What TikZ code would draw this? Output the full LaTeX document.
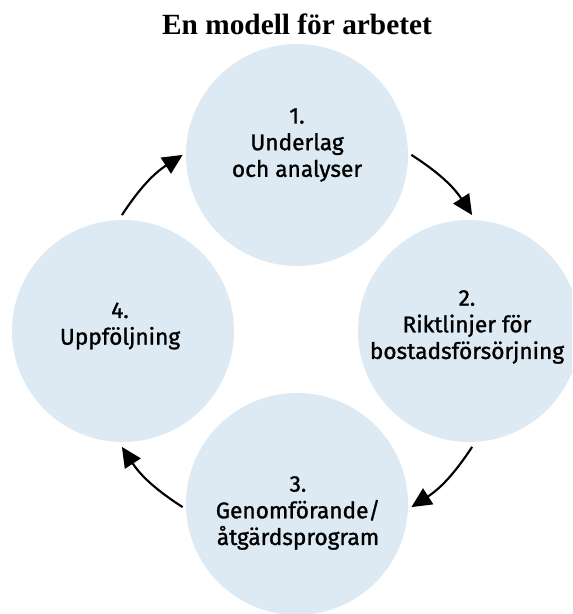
\documentclass[tikz,border=0pt]{standalone}
\usepackage{fontspec}
\setmainfont{Liberation Serif}
\newfontfamily\stagefont{Fira Sans}[UprightFeatures={FakeBold=1.2}]
\usepackage{xcolor}
\usepackage{tikz}
\usetikzlibrary{arrows.meta,positioning,calc}
\definecolor{bubble}{RGB}{221,234,243}

\begin{document}
\begin{tikzpicture}[
  x=0.75pt, y=0.75pt,
  stage/.style={circle, fill=bubble, minimum size=166.5pt, inner sep=0pt},
  stagetext/.style={align=center, inner sep=0pt, font=\stagefont\fontsize{17}{20}\selectfont},
  flow/.style={-{Triangle[length=15pt,width=14pt]}, line width=1.6pt, bend left=12}
]
  \path[use as bounding box, clip] (0,0) rectangle (572,614);
  \node[anchor=base, font=\bfseries\fontsize{22}{26}\selectfont] (title) at (297,579) {En modell för arbetet};
  \coordinate (hub) at (297,283);

  \node[stage] (s1) at (297,459) {};
  \node[stage] (s2) at (469,283) {};
  \node[stage] (s3) at (297,110) {};
  \node[stage] (s4) at (123,283) {};

  \node[stagetext] (t1) at ([shift={(0,10)}]s1.center) {1.\\Underlag\\och analyser};
  \node[stagetext] (t2) at ([shift={(-2,4)}]s2.center) {2.\\Riktlinjer för\\bostadsförsörjning};
  \node[stagetext] (t3) at ([shift={(1,-9)}]s3.center) {3.\\Genomförande/\\åtgärdsprogram};
  \node[stagetext] (t4) at ([shift={(-3,5)}]s4.center) {4.\\Uppföljning};

  \coordinate (a1) at ($(hub)+(146.5:210)$);
  \coordinate (b1) at ($(hub)+(123:210)$);
  \coordinate (a2) at ($(hub)+(57:210)$);
  \coordinate (b2) at ($(hub)+(33.5:210)$);
  \coordinate (a3) at ($(hub)+(-33.5:210)$);
  \coordinate (b3) at ($(hub)+(-57:210)$);
  \coordinate (a4) at ($(hub)+(-123:210)$);
  \coordinate (b4) at ($(hub)+(-146.5:210)$);

  \draw[flow] (a1) to (b1);
  \draw[flow] (a2) to (b2);
  \draw[flow] (a3) to (b3);
  \draw[flow] (a4) to (b4);
\end{tikzpicture}
\end{document}
